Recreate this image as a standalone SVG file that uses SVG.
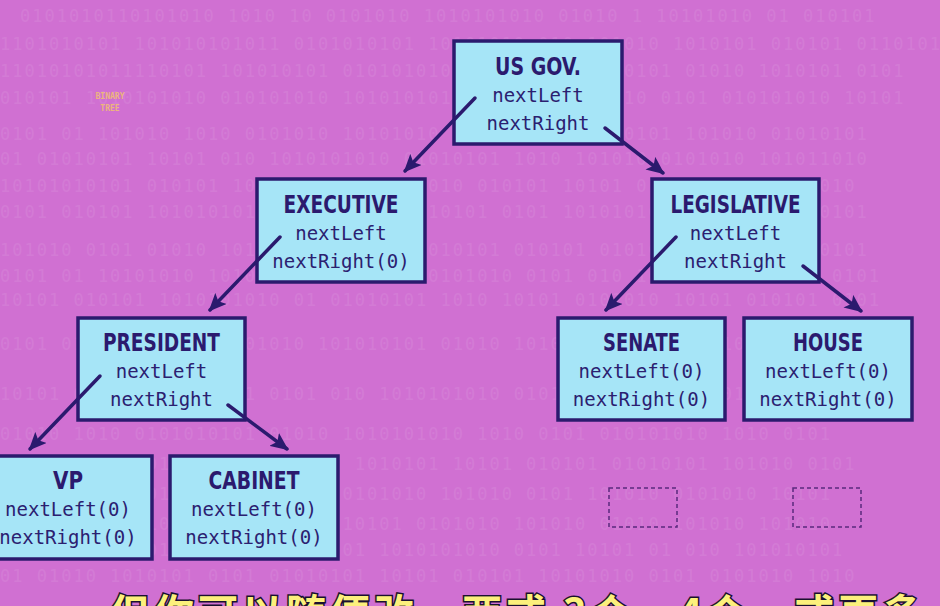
<svg xmlns="http://www.w3.org/2000/svg" width="940" height="606" viewBox="0 0 940 606">
<style>
.bg{fill:#d070d2}
.bin{font-family:"DejaVu Sans Mono","Liberation Mono",monospace;font-size:17px;fill:#ffffff;opacity:0.08;letter-spacing:2px}
.box{fill:#a6e5f7;stroke:#2b1a6e;stroke-width:3.5}
.title{font-family:"DejaVu Sans Condensed","Liberation Sans Narrow","Liberation Sans",sans-serif;font-weight:bold;font-size:24px;fill:#2b1a6e;text-anchor:middle}
.mono{font-family:"DejaVu Sans Mono","Liberation Mono",monospace;font-size:19px;fill:#2b2070;text-anchor:middle}
.conn{stroke:#2b1a6e;stroke-width:3.5;fill:none;stroke-linecap:round}
.dash{fill:none;stroke:#5a2a7e;stroke-width:1.5;stroke-dasharray:4 3}
.tag{font-family:"DejaVu Sans Mono",monospace;font-size:8px;font-weight:bold;fill:#f2c070;opacity:0.85;text-anchor:middle}
.sub{font-family:"Noto Sans CJK SC","Noto Sans",sans-serif;font-weight:bold;font-size:40px;fill:#fcf07c;stroke:#1a1030;stroke-width:3;paint-order:stroke;letter-spacing:4px}
</style>
<defs>
<marker id="ah" markerUnits="userSpaceOnUse" markerWidth="18" markerHeight="16" viewBox="0 0 18 16" refX="16" refY="8" orient="auto">
<path d="M0,0 L18,8 L0,16 L4,8 Z" fill="#2b1a6e"/>
</marker>
</defs>
<rect class="bg" x="0" y="0" width="940" height="606"/>
<g id="background-binary">
<text class="bin" x="20" y="22">0101010110101010 1010  10 0101010 1010101010 01010 1 10101010 01 010101</text>
<text class="bin" x="0" y="50">1101010101 101010101011 0101010101 10101010 010 101010 1010101 010101 0110101</text>
<text class="bin" x="0" y="77">11010101011110101 101010101 01010101010 101010101 10101 01010 1010101 0101</text>
<text class="bin" x="0" y="104">010101 1010101010 010101010 1010101010 01010 10101010 0101 010101010 10101</text>
<text class="bin" x="0" y="140">0101 01 101010 1010 0101010 10101010 1010 0101010 10101 101010 01010101</text>
<text class="bin" x="0" y="165">01 01010101 10101 010 1010101010 01010101 1010 101010 0101010 101011010</text>
<text class="bin" x="0" y="192">10101010101 010101 1010101010 10101010 010101 10101 0101010 1010101010</text>
<text class="bin" x="0" y="218">0101 010101 1010101010 0101010 101010101 0101 10101010 010101 101010101</text>
<text class="bin" x="0" y="256">101010 0101 01010 1010101010 0101 1010101 010101 010101010 1010101 0101</text>
<text class="bin" x="0" y="282">0101 01 10101010 1010 01010101010 10101010 0101 010 1010101 0101010 0101</text>
<text class="bin" x="0" y="306">10101 010101 1010101010 01 01010101 1010 10101 0101010 10101 010101 0101</text>
<text class="bin" x="0" y="350">0101 0101010 1010 0101010 101010101 01010 10101 010101 1010101 10101</text>
<text class="bin" x="0" y="400">10101 01010 101010101 0101 010 1010101010 01010 1010 10101 010101 1010</text>
<text class="bin" x="0" y="440">01010 1010 0101010101 01010 1010101010 1010 0101 010101010 1010 0101</text>
<text class="bin" x="0" y="470">1010101 010101 10101010 0101 1010101 10101 010101 01010101 101010 0101</text>
<text class="bin" x="0" y="500">01010 10101 0101 1010101010 0101010 101010 0101 101010 0101010 10101</text>
<text class="bin" x="0" y="530">101010 0101010 10101 0101 1010101 0101010 101010 01010 101010 101010</text>
<text class="bin" x="0" y="556">0101 101010 01010101 1010 0101 1010101010 0101 10101 01 010 101010101</text>
<text class="bin" x="0" y="582">01 01010 1010101 0101 01010101 10101 010101 10101010 0101 0101010 1010</text>
</g>
<g id="tag">
<text class="tag" x="110" y="99">BINARY</text>
<text class="tag" x="110" y="111">TREE</text>
</g>
<g id="usgov">
<rect class="box" x="454" y="41" width="168" height="103"/>
<text class="title" x="538" y="75" textLength="86" lengthAdjust="spacingAndGlyphs">US GOV.</text>
<text class="mono" x="538" y="102">nextLeft</text>
<text class="mono" x="538" y="130">nextRight</text>
</g>
<g id="executive">
<rect class="box" x="257" y="179" width="168" height="103"/>
<text class="title" x="341" y="213" textLength="115" lengthAdjust="spacingAndGlyphs">EXECUTIVE</text>
<text class="mono" x="341" y="240">nextLeft</text>
<text class="mono" x="341" y="268">nextRight(0)</text>
</g>
<g id="legislative">
<rect class="box" x="652" y="179" width="167" height="103"/>
<text class="title" x="735.5" y="213" textLength="130" lengthAdjust="spacingAndGlyphs">LEGISLATIVE</text>
<text class="mono" x="735.5" y="240">nextLeft</text>
<text class="mono" x="735.5" y="268">nextRight</text>
</g>
<g id="president">
<rect class="box" x="78" y="318" width="167" height="102"/>
<text class="title" x="161.5" y="351" textLength="117" lengthAdjust="spacingAndGlyphs">PRESIDENT</text>
<text class="mono" x="161.5" y="378">nextLeft</text>
<text class="mono" x="161.5" y="406">nextRight</text>
</g>
<g id="senate">
<rect class="box" x="558" y="318" width="167" height="102"/>
<text class="title" x="641.5" y="351" textLength="77" lengthAdjust="spacingAndGlyphs">SENATE</text>
<text class="mono" x="641.5" y="378">nextLeft(0)</text>
<text class="mono" x="641.5" y="406">nextRight(0)</text>
</g>
<g id="house">
<rect class="box" x="744" y="318" width="168" height="102"/>
<text class="title" x="828" y="351" textLength="70" lengthAdjust="spacingAndGlyphs">HOUSE</text>
<text class="mono" x="828" y="378">nextLeft(0)</text>
<text class="mono" x="828" y="406">nextRight(0)</text>
</g>
<g id="vp">
<rect class="box" x="-16" y="456" width="168" height="103"/>
<text class="title" x="68" y="489" textLength="30" lengthAdjust="spacingAndGlyphs">VP</text>
<text class="mono" x="68" y="516">nextLeft(0)</text>
<text class="mono" x="68" y="544">nextRight(0)</text>
</g>
<g id="cabinet">
<rect class="box" x="170" y="456" width="168" height="103"/>
<text class="title" x="254" y="489" textLength="91" lengthAdjust="spacingAndGlyphs">CABINET</text>
<text class="mono" x="254" y="516">nextLeft(0)</text>
<text class="mono" x="254" y="544">nextRight(0)</text>
</g>
<g id="empty-slots">
<rect class="dash" x="609" y="488" width="68" height="39"/>
<rect class="dash" x="793" y="488" width="68" height="39"/>
</g>
<g id="connectors">
<line class="conn" x1="475" y1="98" x2="405" y2="171" marker-end="url(#ah)"/>
<line class="conn" x1="605" y1="128" x2="663" y2="173" marker-end="url(#ah)"/>
<line class="conn" x1="280" y1="237" x2="210" y2="310" marker-end="url(#ah)"/>
<line class="conn" x1="676" y1="237" x2="606" y2="310" marker-end="url(#ah)"/>
<line class="conn" x1="803" y1="266" x2="861" y2="311" marker-end="url(#ah)"/>
<line class="conn" x1="100" y1="376" x2="30" y2="449" marker-end="url(#ah)"/>
<line class="conn" x1="228" y1="405" x2="287" y2="449" marker-end="url(#ah)"/>
</g>
<g id="subtitle">
<text class="sub" x="110" y="628">但你可以随便改，两或 3个、4个，或更多</text>
</g>
</svg>
